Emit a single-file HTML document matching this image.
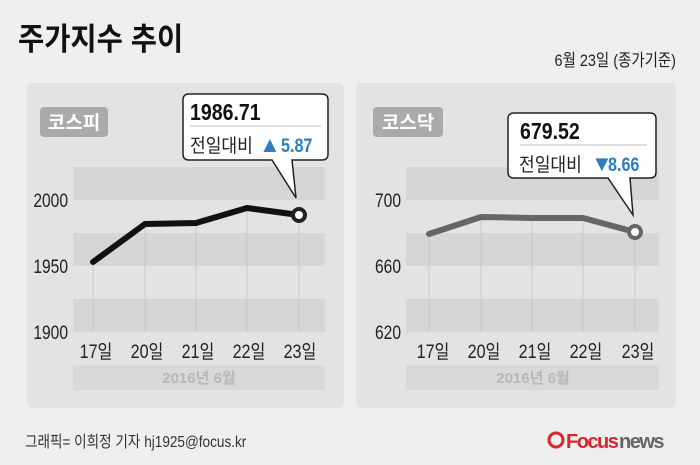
<!DOCTYPE html>
<html><head><meta charset="utf-8"><style>
html,body{margin:0;padding:0;background:#efefef;}
svg{display:block;font-family:"Liberation Sans","Noto Sans CJK KR",sans-serif;}
</style></head><body>
<svg width="700" height="465" viewBox="0 0 700 465" xmlns="http://www.w3.org/2000/svg">
<rect width="700" height="465" fill="#efefef"/>
<text x="18" y="50" font-size="31" font-weight="bold" fill="#111" transform="translate(18 0) scale(0.92 1) translate(-18 0)">주가지수 추이</text>
<text x="676" y="66" font-size="17" fill="#222" text-anchor="end" transform="translate(676 0) scale(0.85 1) translate(-676 0)">6월 23일 (종가기준)</text>

<!-- left panel -->
<rect x="27" y="83" width="317" height="325" rx="6" fill="#e3e3e3"/>
<rect x="73" y="167" width="252" height="33" fill="#d6d6d6"/>
<rect x="73" y="233" width="252" height="33" fill="#d6d6d6"/>
<rect x="73" y="299" width="252" height="33" fill="#d6d6d6"/>
<rect x="73" y="365" width="252" height="25" fill="#d9d9d9"/>
<g stroke="#c8c8c8" stroke-width="1"><line x1="93" y1="262" x2="93" y2="332"/><line x1="145" y1="224" x2="145" y2="332"/><line x1="196" y1="223" x2="196" y2="332"/><line x1="247" y1="208" x2="247" y2="332"/><line x1="299" y1="215" x2="299" y2="332"/></g>
<rect x="40" y="107" width="68" height="30" rx="4" fill="#aaaaaa"/>
<text x="74" y="129" font-size="19" font-weight="bold" fill="#fff" text-anchor="middle">코스피</text>
<g font-size="19" fill="#222" text-anchor="end">
<text x="68" y="207" transform="translate(68 0) scale(0.82 1) translate(-68 0)">2000</text>
<text x="68" y="273" transform="translate(68 0) scale(0.82 1) translate(-68 0)">1950</text>
<text x="68" y="339" transform="translate(68 0) scale(0.82 1) translate(-68 0)">1900</text></g>
<g font-size="19" fill="#222" text-anchor="middle">
<text x="96" y="358" transform="translate(96 0) scale(0.85 1) translate(-96 0)">17일</text>
<text x="147" y="358" transform="translate(147 0) scale(0.85 1) translate(-147 0)">20일</text>
<text x="198" y="358" transform="translate(198 0) scale(0.85 1) translate(-198 0)">21일</text>
<text x="249" y="358" transform="translate(249 0) scale(0.85 1) translate(-249 0)">22일</text>
<text x="300" y="358" transform="translate(300 0) scale(0.85 1) translate(-300 0)">23일</text></g>
<text x="199" y="383" font-size="15" font-weight="bold" fill="#b8b8b8" text-anchor="middle">2016년 6월</text>
<polyline points="93,262 145,224 196,223 247,208 299,215" fill="none" stroke="#111" stroke-width="6" stroke-linejoin="round" stroke-linecap="round"/>
<circle cx="299" cy="215" r="6" fill="#fff" stroke="#222" stroke-width="4"/>
<path d="M189,94 H322 Q328,94 328,100 V154 Q328,160 322,160 H292 L296,198 L272,160 H189 Q183,160 183,154 V100 Q183,94 189,94 Z" fill="#fff" stroke="#222" stroke-width="1.5"/>
<line x1="190" y1="126" x2="321" y2="126" stroke="#bbb"/>
<text x="190" y="120" font-size="23" font-weight="bold" fill="#111" transform="translate(190 0) scale(0.85 1) translate(-190 0)">1986.71</text>
<text x="190" y="152" font-size="19" fill="#222" transform="translate(190 0) scale(0.9 1) translate(-190 0)">전일대비</text>
<text x="259" y="152" font-size="22" fill="#2a7fc1">▲</text>
<text x="281" y="152" font-size="19" font-weight="bold" fill="#2a7fc1" transform="translate(281 0) scale(0.85 1) translate(-281 0)">5.87</text>

<!-- right panel -->
<rect x="356" y="83" width="320" height="325" rx="6" fill="#e3e3e3"/>
<rect x="406" y="167" width="253" height="33" fill="#d6d6d6"/>
<rect x="406" y="233" width="253" height="33" fill="#d6d6d6"/>
<rect x="406" y="299" width="253" height="33" fill="#d6d6d6"/>
<rect x="406" y="365" width="253" height="25" fill="#d9d9d9"/>
<g stroke="#c8c8c8" stroke-width="1"><line x1="429" y1="234" x2="429" y2="332"/><line x1="481" y1="217" x2="481" y2="332"/><line x1="532" y1="218" x2="532" y2="332"/><line x1="583" y1="218" x2="583" y2="332"/><line x1="635" y1="232" x2="635" y2="332"/></g>
<rect x="373" y="107" width="70" height="30" rx="4" fill="#aaaaaa"/>
<text x="408" y="129" font-size="19" font-weight="bold" fill="#fff" text-anchor="middle">코스닥</text>
<g font-size="19" fill="#222" text-anchor="end">
<text x="401" y="207" transform="translate(401 0) scale(0.82 1) translate(-401 0)">700</text>
<text x="401" y="273" transform="translate(401 0) scale(0.82 1) translate(-401 0)">660</text>
<text x="401" y="339" transform="translate(401 0) scale(0.82 1) translate(-401 0)">620</text></g>
<g font-size="19" fill="#222" text-anchor="middle">
<text x="433" y="358" transform="translate(433 0) scale(0.85 1) translate(-433 0)">17일</text>
<text x="484" y="358" transform="translate(484 0) scale(0.85 1) translate(-484 0)">20일</text>
<text x="535" y="358" transform="translate(535 0) scale(0.85 1) translate(-535 0)">21일</text>
<text x="586" y="358" transform="translate(586 0) scale(0.85 1) translate(-586 0)">22일</text>
<text x="638" y="358" transform="translate(638 0) scale(0.85 1) translate(-638 0)">23일</text></g>
<text x="533" y="383" font-size="15" font-weight="bold" fill="#b8b8b8" text-anchor="middle">2016년 6월</text>
<polyline points="429,234 481,217 532,218 583,218 635,232" fill="none" stroke="#666" stroke-width="6" stroke-linejoin="round" stroke-linecap="round"/>
<circle cx="635" cy="232" r="6" fill="#fff" stroke="#666" stroke-width="4"/>
<path d="M514,113 H650 Q656,113 656,119 V172 Q656,178 650,178 H630 L633,215 L608,178 H514 Q508,178 508,172 V119 Q508,113 514,113 Z" fill="#fff" stroke="#222" stroke-width="1.5"/>
<line x1="520" y1="145" x2="647" y2="145" stroke="#bbb"/>
<text x="520" y="139" font-size="23" font-weight="bold" fill="#111" transform="translate(520 0) scale(0.85 1) translate(-520 0)">679.52</text>
<text x="519" y="171" font-size="19" fill="#222" transform="translate(519 0) scale(0.9 1) translate(-519 0)">전일대비</text>
<text x="591" y="171" font-size="22" fill="#2a7fc1">▼</text>
<text x="608" y="171" font-size="19" font-weight="bold" fill="#2a7fc1" transform="translate(608 0) scale(0.85 1) translate(-608 0)">8.66</text>

<text x="25" y="447" font-size="16" fill="#333" transform="translate(25 0) scale(0.85 1) translate(-25 0)">그래픽= 이희정 기자 hj1925@focus.kr</text>
<circle cx="556" cy="440" r="7" fill="none" stroke="#d8262c" stroke-width="3"/>
<text x="566" y="448" font-size="20" font-weight="bold" fill="#d8262c" letter-spacing="-1.5">Focus</text>
<text x="619" y="448" font-size="20" font-weight="bold" fill="#666" letter-spacing="-1.5">news</text>
</svg>
</body></html>
